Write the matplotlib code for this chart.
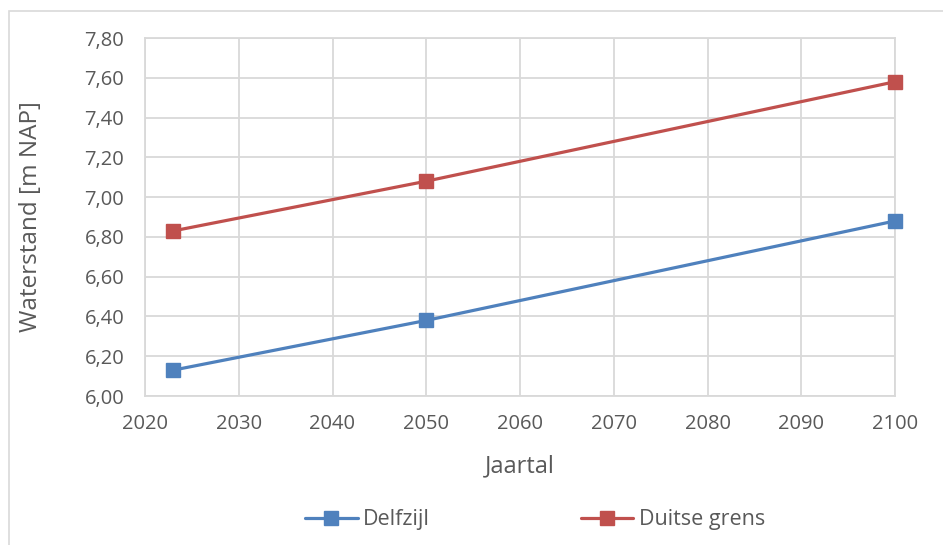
import matplotlib
matplotlib.use("Agg")
import matplotlib.pyplot as plt
from matplotlib.patches import Rectangle

plt.rcParams['font.family'] = ['Open Sans', 'DejaVu Sans']

years = [2023, 2050, 2100]
delfzijl = [6.13, 6.38, 6.88]
duitse_grens = [6.83, 7.08, 7.58]
x_ticks = [2020, 2030, 2040, 2050, 2060, 2070, 2080, 2090, 2100]
y_ticks = [6.00, 6.20, 6.40, 6.60, 6.80, 7.00, 7.20, 7.40, 7.60, 7.80]
y_labels = [f"{v:.2f}".replace('.', ',') for v in y_ticks]

text_c = '#595959'
grid_c = '#D9D9D9'

fig = plt.figure(figsize=(9.43, 5.45), dpi=100)
fig.patches.append(Rectangle((8.5/943, -0.1), 1.2, 1.1 - 10.5/545,
                             transform=fig.transFigure, fill=False,
                             edgecolor='#D9D9D9', linewidth=1.2))
ax = fig.add_axes([145/943, 1 - 396/545, (895 - 145)/943, (396 - 38)/545])

ax.plot(years, delfzijl, color='#4F81BD', linewidth=2.3, marker='s',
        markersize=10.5, label='Delfzijl', solid_capstyle='round', clip_on=False, zorder=3)
ax.plot(years, duitse_grens, color='#C0504D', linewidth=2.3, marker='s',
        markersize=10.5, label='Duitse grens', solid_capstyle='round', clip_on=False, zorder=3)

ax.set_xlim(2020, 2100)
ax.set_ylim(6.0, 7.8)
ax.set_xticks(x_ticks)
ax.set_xticklabels([str(t) for t in x_ticks])
ax.set_yticks(y_ticks)
ax.set_yticklabels(y_labels)
ax.grid(True, color=grid_c, linewidth=1.3)
ax.set_axisbelow(True)
for s in ['top', 'right', 'left', 'bottom']:
    ax.spines[s].set_color(grid_c)
    ax.spines[s].set_linewidth(1.3)
ax.tick_params(length=0, labelsize=14.5, colors=text_c)
ax.tick_params(axis='x', pad=13)
ax.tick_params(axis='y', pad=15)
ax.set_xlabel('Jaartal', fontsize=17, color=text_c)
ax.set_ylabel('Waterstand [m NAP]', fontsize=17.5, color=text_c)
ax.xaxis.set_label_coords(0.5, (396 - 466) / 358)
ax.xaxis.label.set_va('center')
ax.yaxis.set_label_coords((31 - 145) / 750, 0.5)
ax.yaxis.label.set_va('center')

leg = fig.legend(loc='center', bbox_to_anchor=(535/943, 1 - 520/545), ncol=2,
                 frameon=False, fontsize=15.5, handlelength=2.45,
                 columnspacing=7.0, handletextpad=0.25)
for t in leg.get_texts():
    t.set_color(text_c)

fig.savefig('out.png', dpi=100)
